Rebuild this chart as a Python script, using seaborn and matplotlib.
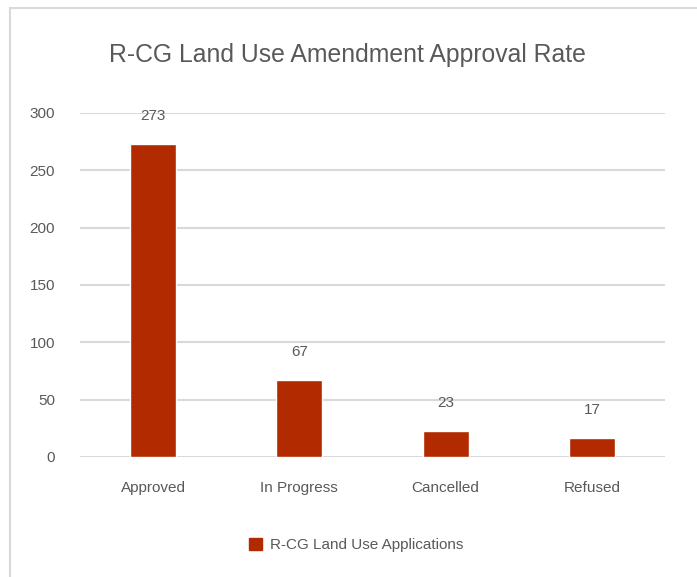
import matplotlib.pyplot as plt
import matplotlib.patches as mpatches
import seaborn as sns
import pandas as pd

# data
categories = ['Approved', 'In Progress', 'Cancelled', 'Refused']
counts = [273, 67, 23, 17]
series_name = 'R-CG Land Use Applications'

bar_color = '#B22A00'
text_color = '#595959'
grid_color = '#D9D9D9'

sns.set_theme(style='white')
plt.rcParams['font.family'] = ['Liberation Sans', 'DejaVu Sans']

df = pd.DataFrame({'category': categories, 'count': counts})

fig = plt.figure(figsize=(6.97, 5.77), dpi=100)
ax = fig.add_axes([80/697, 1-457/577, 585/697, (457-113)/577])

sns.barplot(data=df, x='category', y='count', color=bar_color,
            width=0.315, saturation=1, ax=ax, zorder=3)

ax.set_xlim(-0.5, 3.5)
ax.set_ylim(0, 300)
ax.set_yticks(range(0, 301, 50))
ax.grid(axis='y', color=grid_color, linewidth=1.5, zorder=0)
ax.set_axisbelow(True)
for s in ax.spines.values():
    s.set_visible(False)
ax.set_xlabel('')
ax.set_ylabel('')
ax.tick_params(axis='both', length=0, labelsize=11, labelcolor=text_color)
ax.tick_params(axis='y', pad=18)
ax.tick_params(axis='x', pad=17)

# value labels above bars
for i, v in enumerate(counts):
    ax.annotate(str(v), (i, v), xytext=(0, 15), textcoords='offset points',
                ha='center', va='bottom', fontsize=11, color=text_color)

fig.text(347/697, 1-55/577, 'R-CG Land Use Amendment Approval Rate',
         ha='center', va='center', fontsize=17.8, color=text_color)

handle = mpatches.Patch(color=bar_color, label=series_name)
fig.legend(handles=[handle], loc='center', bbox_to_anchor=(356/697, 1-545/577),
           frameon=False, fontsize=11, labelcolor=text_color,
           handlelength=0.9, handleheight=0.9, handletextpad=0.5)

# outer chart frame
fig.patches.append(mpatches.Rectangle((10/697, -0.05), 1.0, 1-8/577+0.05,
                                      transform=fig.transFigure, fill=False,
                                      edgecolor=grid_color, linewidth=1.5))

fig.savefig('out.png', dpi=100)
